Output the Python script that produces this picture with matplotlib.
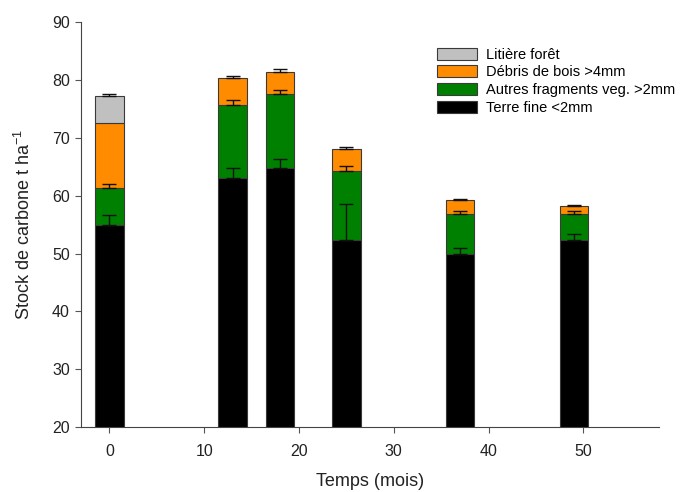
import matplotlib
matplotlib.use("Agg")
import matplotlib.pyplot as plt
import numpy as np

plt.rcParams["font.family"] = ["Liberation Sans", "DejaVu Sans"]
plt.rcParams["mathtext.default"] = "regular"

# months after clearing
temps = [0, 13, 18, 25, 37, 49]

# stacked carbon stocks (t/ha), bottom to top
terre_fine = [55.0, 63.0, 64.8, 52.4, 49.9, 52.3]
autres_frag = [6.3, 12.75, 12.7, 11.9, 6.9, 4.6]
debris_bois = [11.2, 4.55, 3.9, 3.8, 2.4, 1.4]
litiere = [4.8, 0, 0, 0, 0, 0]

# upper error (one-sided)
err_terre = [1.6, 1.8, 1.6, 6.1, 1.0, 1.1]
err_autres = [0.8, 0.8, 0.8, 0.8, 0.6, 0.4]
err_debris = [0.0, 0.4, 0.5, 0.3, 0.15, 0.1]
err_litiere = [0.2, 0, 0, 0, 0, 0]

labels = ["Terre fine <2mm", "Autres fragments veg. >2mm",
          "Débris de bois >4mm", "Litière forêt"]
colors = ["#000000", "#008000", "#FF8C00", "#C0C0C0"]

fig = plt.figure(figsize=(6.86, 4.92), dpi=100)
ax = fig.add_axes([0.118, 0.132, 0.843, 0.823])

x = np.array(temps)
series = [terre_fine, autres_frag, debris_bois, litiere]
errs = [err_terre, err_autres, err_debris, err_litiere]
bottom = np.zeros(len(x))
handles = []
for vals, err, col, lab in zip(series, errs, colors, labels):
    vals = np.array(vals)
    err = np.array(err)
    mask = vals > 0
    h = ax.bar(x[mask], vals[mask], width=3, bottom=bottom[mask], color=col,
               edgecolor="#3a3a3a", linewidth=0.8, label=lab, zorder=2)
    top = bottom + vals
    emask = mask & (err > 0)
    ax.errorbar(x[emask], top[emask], yerr=[np.zeros(emask.sum()), err[emask]],
                fmt="none", ecolor="#111111", elinewidth=1.0, capsize=5,
                capthick=1.0, zorder=3)
    handles.append(h)
    bottom = top

ax.set_xlim(-3, 58)
ax.set_ylim(20, 90)
ax.set_xticks([0, 10, 20, 30, 40, 50])
ax.set_yticks(range(20, 91, 10))
ax.tick_params(labelsize=11.5, length=4, width=0.8, color="#555555",
               labelcolor="#222222")
ax.tick_params(axis="x", pad=8)
ax.tick_params(axis="y", pad=4)
for s in ["top", "right"]:
    ax.spines[s].set_visible(False)
for s in ["left", "bottom"]:
    ax.spines[s].set_linewidth(0.8)
    ax.spines[s].set_color("#444444")

ax.set_xlabel("Temps (mois)", fontsize=13, color="#222222", va="center")
ax.xaxis.set_label_coords(0.5, -0.134)
ax.set_ylabel("Stock de carbone t ha$^{-1}$", fontsize=13, color="#222222",
              va="center")
ax.yaxis.set_label_coords(-0.098, 0.5)

ax.legend(handles[::-1], labels[::-1], loc="upper left",
          bbox_to_anchor=(0.628, 0.915), bbox_transform=fig.transFigure,
          frameon=False, fontsize=10.5, handlelength=2.8, handleheight=0.9,
          labelspacing=0.25, handletextpad=0.6, borderaxespad=0)

fig.savefig("out.png", dpi=100)
